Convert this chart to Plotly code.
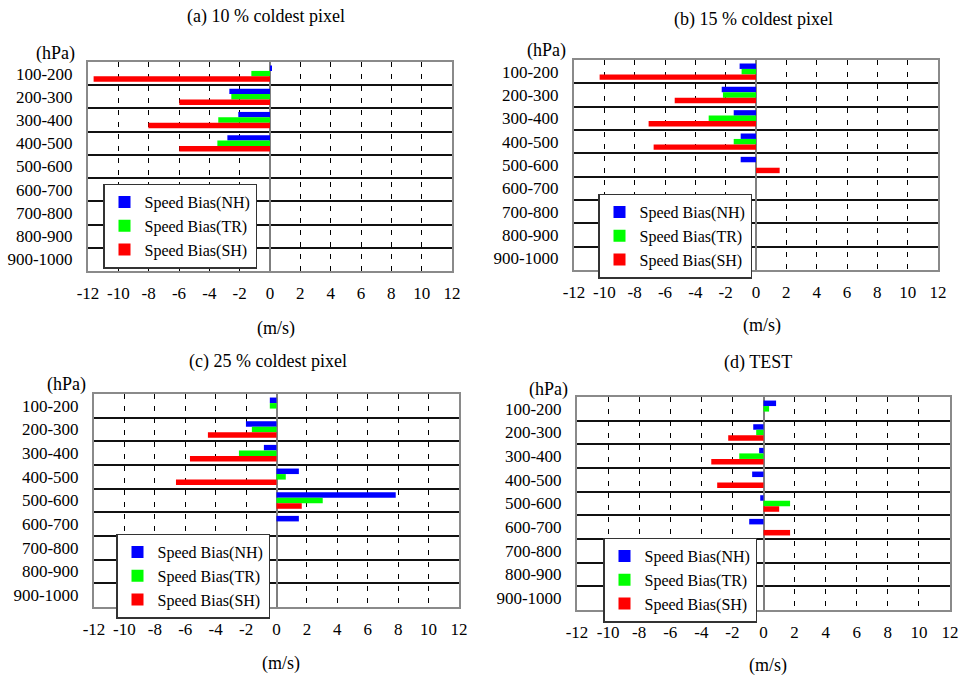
import plotly.graph_objects as go

levels = ["100-200", "200-300", "300-400", "400-500", "500-600",
          "600-700", "700-800", "800-900", "900-1000"]
x_ticks = [-12, -10, -8, -6, -4, -2, 0, 2, 4, 6, 8, 10, 12]
series_names = ["Speed Bias(NH)", "Speed Bias(TR)", "Speed Bias(SH)"]
series_colors = ["#0000FF", "#00FF00", "#FF0000"]
panel_titles = ["(a) 10 % coldest pixel", "(b) 15 % coldest pixel",
                "(c) 25 % coldest pixel", "(d) TEST"]

# panel (a) 10 % coldest pixel
a_nh = [0.13, -2.68, -2.09, -2.81, None, None, None, None, None]
a_tr = [-1.23, -2.55, -3.41, -3.47, None, None, None, None, None]
a_sh = [-11.63, -5.98, -8.02, -5.98, None, None, None, None, None]
# panel (b) 15 % coldest pixel
b_nh = [-1.08, -2.26, -1.47, -1.01, -1.01, None, None, None, None]
b_tr = [-0.95, -2.18, -3.12, -1.47, None, None, None, None, None]
b_sh = [-10.31, -5.36, -7.08, -6.75, 1.56, None, None, None, None]
# panel (c) 25 % coldest pixel
c_nh = [-0.44, -2.01, -0.83, 1.47, 7.84, 1.47, None, None, None]
c_tr = [-0.44, -1.62, -2.47, 0.61, 3.04, None, None, None, None]
c_sh = [None, -4.51, -5.69, -6.61, 1.66, None, None, None, None]
# panel (d) TEST
d_nh = [0.81, -0.66, -0.28, -0.73, -0.21, -0.92, None, None, None]
d_tr = [0.36, -0.47, -1.56, None, 1.71, None, None, None, None]
d_sh = [None, -2.27, -3.36, -2.98, 1.01, 1.71, None, None, None]

panels = [(a_nh, a_tr, a_sh), (b_nh, b_tr, b_sh), (c_nh, c_tr, c_sh), (d_nh, d_tr, d_sh)]

W, H = 960, 677
# plot-area pixel boxes (left, right, top, bottom)
boxes = [(88, 452, 62, 271), (574, 938, 60, 270), (94, 459, 394, 607), (577, 950, 397, 610)]
title_pos = [(266, 17), (753, 20), (268, 361), (758, 362)]
hpa_pos = [(55, 53), (546, 50), (66, 384), (548, 389)]
ms_pos = [(276, 328), (762, 325), (281, 663), (768, 665)]
legend_center = [(180, 226), (675, 236), (193, 576), (680, 580)]

FONT = "Liberation Serif"
fig = go.Figure()
ypos = list(range(len(levels)))

annotations = []
layout = {}
for i, (vals, box) in enumerate(zip(panels, boxes)):
    sfx = "" if i == 0 else str(i + 1)
    leg = "legend" if i == 0 else f"legend{i + 1}"
    for name, color, v in zip(series_names, series_colors, vals):
        fig.add_trace(go.Bar(
            x=v, y=ypos, orientation="h", name=name,
            marker=dict(color=color, line=dict(width=0)),
            xaxis="x" + sfx, yaxis="y" + sfx, legend=leg,
        ))
    l, r, t, b = box
    layout["xaxis" + sfx] = dict(
        domain=[l / W, r / W], anchor="y" + sfx, range=[-12, 12],
        tickvals=x_ticks, ticktext=[str(v) for v in x_ticks],
        showgrid=True, gridcolor="black", griddash="5px,7px", gridwidth=1,
        zeroline=True, zerolinecolor="#7f7f7f", zerolinewidth=2,
        showline=True, linecolor="#8a8a8a", linewidth=2, mirror=True,
        ticks="outside", ticklen=6, tickcolor="rgba(0,0,0,0)",
        tickfont=dict(family=FONT, size=17, color="black"),
        fixedrange=True, automargin=False,
    )
    layout["yaxis" + sfx] = dict(
        domain=[1 - b / H, 1 - t / H], anchor="x" + sfx, range=[len(levels) - 0.5, -0.5],
        tickvals=ypos, ticktext=levels, showgrid=False, zeroline=False,
        minor=dict(tickvals=[k + 0.5 for k in range(len(levels) - 1)], showgrid=True,
                   gridcolor="#111111", gridwidth=1.5),
        showline=True, linecolor="#8a8a8a", linewidth=2, mirror=True,
        ticks="outside", ticklen=10, tickcolor="rgba(0,0,0,0)",
        tickfont=dict(family=FONT, size=17, color="black"),
        fixedrange=True, automargin=False,
    )
    lx, ly = legend_center[i]
    layout[leg] = dict(
        x=lx / W, y=1 - ly / H, xanchor="center", yanchor="middle",
        bgcolor="white", bordercolor="#333333", borderwidth=1.5,
        font=dict(family=FONT, size=16, color="black"),
        tracegroupgap=0, itemsizing="constant",
    )
    for text, (px, py) in ((panel_titles[i], title_pos[i]), ("(hPa)", hpa_pos[i]),
                           ("(m/s)", ms_pos[i])):
        annotations.append(dict(x=px / W, y=1 - py / H, xref="paper", yref="paper",
                                xanchor="center", yanchor="middle",
                                text=text, showarrow=False,
                                font=dict(family=FONT, size=18, color="black")))

fig.update_layout(
    width=W, height=H, margin=dict(l=0, r=0, t=0, b=0, autoexpand=False),
    paper_bgcolor="white", plot_bgcolor="white",
    barmode="group", bargap=0.3, bargroupgap=0,
    annotations=annotations,
    font=dict(family=FONT, size=16, color="black"),
    **layout,
)
fig.write_html("out.html", config={"displayModeBar": False},
               post_script="document.body.style.margin='0px';document.body.style.overflow='hidden';")
